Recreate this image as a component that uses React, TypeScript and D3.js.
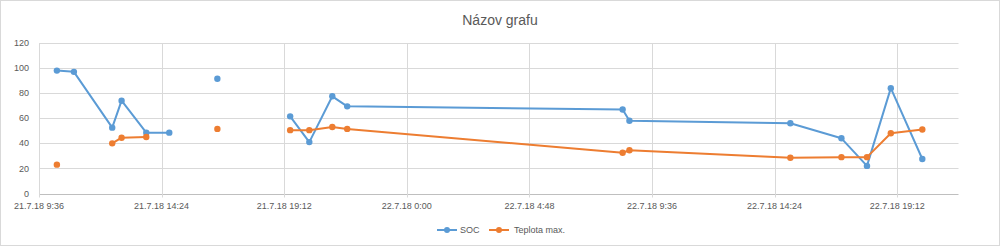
import React from 'react';
import * as d3 from 'd3';

const times = [
  '21.7.18 10:18', '21.7.18 10:58', '21.7.18 12:28', '21.7.18 12:50', '21.7.18 13:48', '21.7.18 14:42',
  '21.7.18 15:40', '21.7.18 16:35', '21.7.18 18:00',
  '21.7.18 19:26', '21.7.18 20:11', '21.7.18 21:05', '21.7.18 21:40',
  '22.7.18 8:27', '22.7.18 8:43', '22.7.18 15:01', '22.7.18 17:01', '22.7.18 18:01', '22.7.18 18:57', '22.7.18 20:11',
];
const soc = [98, 97, 52.5, 74, 48.5, 48.5, null, 91.5, null, 61.5, 41, 77.5, 69.5, 67, 58, 56, 44, 22, 84, 27.5];
const teplota = [23, null, 40, 44.5, 45, null, null, 51.5, null, 50.5, 50.5, 53, 51.5, 32.5, 34.5, 28.5, 29, 29, 48, 51];
const yTicks = [0, 20, 40, 60, 80, 100, 120];
const axisStart = '21.7.18 9:36';
const axisEnd = '22.7.18 21:36';

const parse = d3.timeParse('%d.%m.%y %H:%M');
const fmt = d3.timeFormat('%-d.%-m.%y %-H:%M');

const W = 1000;
const H = 246;
const margin = { left: 39, right: 41.5, top: 43, bottom: 52.5 };
const FONT = '"Liberation Sans", Arial, sans-serif';
const TEXT = '#595959';
const GRID = '#d9d9d9';

const series = [
  { name: 'SOC', values: soc, color: '#5b9bd5' },
  { name: 'Teplota max.', values: teplota, color: '#ed7d31' },
];

export default function App() {
  const start = parse(axisStart) as Date;
  const end = parse(axisEnd) as Date;
  const x = d3.scaleTime().domain([start, end]).range([margin.left, W - margin.right]);
  const y = d3.scaleLinear().domain([0, 120]).range([H - margin.bottom, margin.top]);
  const xTicks = d3.range(0, 8).map(i => d3.timeMinute.offset(start, i * 288));

  const rows = times.map(t => parse(t) as Date);

  const line = d3.line<[Date, number | null]>()
    .defined(d => d[1] !== null)
    .x(d => x(d[0]))
    .y(d => y(d[1] as number));

  const legend = [
    { x0: 437, text: 460 },
    { x0: 489, text: 514 },
  ];

  return (
    <svg width={W} height={H} style={{ position: 'absolute', left: 0, top: 0 }}>
      <rect x={0.5} y={0.5} width={W - 1} height={H - 1} fill="#fff" stroke={GRID} />
      <text x={500} y={25} textAnchor="middle" fontFamily={FONT} fontSize={14} fill={TEXT}>Názov grafu</text>

      {yTicks.map(t => (
        <g key={'y' + t}>
          <line x1={margin.left} x2={W - margin.right} y1={Math.round(y(t)) + 0.5} y2={Math.round(y(t)) + 0.5}
            stroke={t === 0 ? '#bfbfbf' : GRID} />
          <text x={29} y={y(t)} dy="0.35em" textAnchor="end" fontFamily={FONT} fontSize={9} fill={TEXT}>{t}</text>
        </g>
      ))}

      {xTicks.map((t, i) => (
        <g key={'x' + i}>
          <line x1={Math.round(x(t)) + 0.5} x2={Math.round(x(t)) + 0.5} y1={margin.top} y2={H - margin.bottom + 4}
            stroke={GRID} />
          <text x={x(t)} y={209} textAnchor="middle" fontFamily={FONT} fontSize={9} fill={TEXT}>{fmt(t)}</text>
        </g>
      ))}

      {series.map(s => {
        const pts = rows.map((r, i) => [r, s.values[i]] as [Date, number | null]);
        return (
          <g key={s.name}>
            <path d={line(pts) || ''} fill="none" stroke={s.color} strokeWidth={2} strokeLinejoin="round" />
            {pts.filter(p => p[1] !== null).map((p, i) => (
              <circle key={i} cx={x(p[0])} cy={y(p[1] as number)} r={3.2} fill={s.color} />
            ))}
          </g>
        );
      })}

      {series.map((s, i) => (
        <g key={'leg' + i}>
          <line x1={legend[i].x0} x2={legend[i].x0 + 20} y1={230} y2={230} stroke={s.color} strokeWidth={2} />
          <circle cx={legend[i].x0 + 10} cy={230} r={3} fill={s.color} />
          <text x={legend[i].text} y={230} dy="0.35em" fontFamily={FONT} fontSize={9} fill={TEXT}>{s.name}</text>
        </g>
      ))}
    </svg>
  );
}
